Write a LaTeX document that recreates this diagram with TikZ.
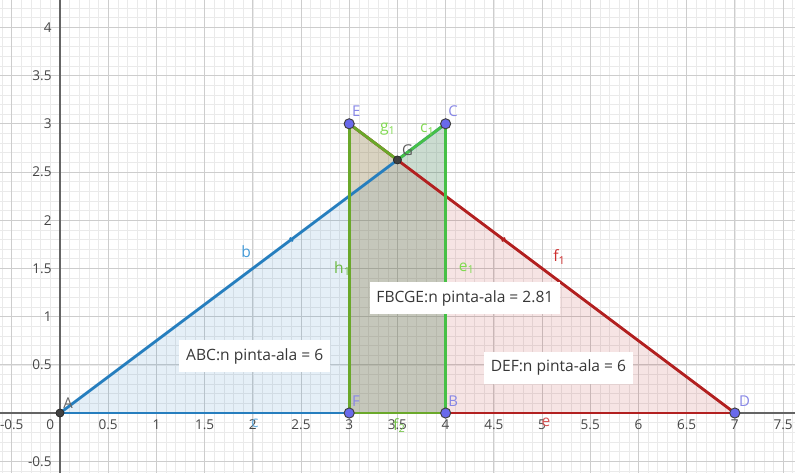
\documentclass[tikz,border=0pt]{standalone}
\usepackage{fontspec}
\setmainfont{Open Sans}
\usetikzlibrary{calc,positioning}
\definecolor{GridMinor}{RGB}{234,234,234}
\definecolor{GridMajor}{RGB}{205,205,205}
\definecolor{AxisGray}{RGB}{100,100,100}
\definecolor{TickGray}{RGB}{70,70,70}
\definecolor{LineBlue}{RGB}{38,126,190}
\definecolor{LineRed}{RGB}{178,32,32}
\definecolor{LineOlive}{RGB}{106,168,42}
\definecolor{LineGreen}{RGB}{70,192,70}
\definecolor{LabelGreen}{RGB}{128,218,80}
\definecolor{LabelBlue}{RGB}{70,155,215}
\definecolor{LabelRed}{RGB}{205,45,45}
\definecolor{PointBlue}{RGB}{105,105,235}
\definecolor{PointText}{RGB}{135,135,230}
\definecolor{BoxText}{RGB}{55,55,55}

\begin{document}
\begin{tikzpicture}[x=2.5cm,y=2.5cm,
    seg/.style={line width=2.1pt,line cap=round},
    pt/.style={circle,fill=PointBlue,draw=black!75,line width=0.7pt,
      inner sep=0pt,minimum size=7.5pt},
    ptdark/.style={circle,fill=black!75,draw=black!85,line width=0.5pt,
      inner sep=0pt,minimum size=6pt},
    ptlbl/.style={text=PointText,font=\fontsize{11}{13}\selectfont,inner sep=1pt},
    seglbl/.style={font=\fontsize{11.5}{13}\selectfont,inner sep=0pt},
    areabox/.style={fill=white,text=BoxText,inner xsep=5pt,inner ysep=6pt,
      font=\fontsize{11.5}{13}\selectfont},
    tick/.style={text=TickGray,font=\fontsize{10}{12}\selectfont,inner sep=1pt},
    segtick/.style={sloped,inner sep=0pt,minimum width=1.4pt,minimum height=3.5pt}
  ]
  \useasboundingbox (-0.622,-0.622) rectangle (7.624,4.284);
  % grid and axes
  \draw[GridMinor,line width=0.4pt] (-0.622,-0.622) grid[step=0.1] (7.624,4.284);
  \draw[GridMajor,line width=0.7pt] (-0.622,-0.622) grid[step=0.5] (7.624,4.284);
  \draw[AxisGray,line width=1.3pt] (-0.622,0) -- (7.624,0);
  \draw[AxisGray,line width=1.3pt] (0,-0.622) -- (0,4.284);
  \foreach \x in {-0.5,0.5,1,1.5,2,2.5,3,3.5,4,4.5,5,5.5,6,6.5,7,7.5}
    \node[tick] at (\x,-0.125) {\x};
  \node[tick] at (-0.1,-0.125) {0};
  \foreach \y in {-0.5,0.5,1,1.5,2,2.5,3,3.5,4}
    \node[tick,anchor=east] at (-0.07,\y) {\y};

  \coordinate (A) at (0,0);
  \coordinate (B) at (4,0);
  \coordinate (C) at (4,3);
  \coordinate (D) at (7,0);
  \coordinate (E) at (3,3);
  \coordinate (F) at (3,0);
  \coordinate (G) at (3.5,2.625);

  % polygons
  \fill[LineBlue,fill opacity=0.12] (A) -- (B) -- (C) -- cycle;
  \fill[LineRed,fill opacity=0.12] (D) -- (E) -- (F) -- cycle;
  \fill[LineOlive!80!black,fill opacity=0.18] (F) -- (B) -- (C) -- (G) -- (E) -- cycle;

  \draw[seg,LineBlue] (A) -- (B);
  \draw[seg,LineBlue] (A) -- (C) node[segtick,pos=0.6,fill=LineBlue] (btick) {};
  \draw[seg,LineRed] (D) -- (F);
  \draw[seg,LineRed] (D) -- (E) node[segtick,pos=0.6,fill=LineRed] (ftick) {};
  \draw[seg,LineOlive] (F) -- (B);
  \draw[seg,LineGreen] (B) -- (C);
  \draw[seg,LineGreen] (C) -- (G);
  \draw[seg,LineOlive] (G) -- (E);
  \draw[seg,LineOlive] (E) -- (F);

  % segment names
  \node[seglbl,text=LabelBlue] (lb) at (1.93,1.67) {b};
  \node[seglbl,text=LabelRed] (lf1) at (5.18,1.62) {f\textsubscript{1}};
  \node[seglbl,text=LabelGreen] (lg1) at (3.40,2.94) {g\textsubscript{1}};
  \node[seglbl,text=LabelGreen] (lc1) at (3.81,2.94) {c\textsubscript{1}};
  \node[seglbl,text=LabelGreen!85!black] (lh1) at (2.93,1.50) {h\textsubscript{1}};
  \node[seglbl,text=LabelGreen] (le1) at (4.22,1.50) {e\textsubscript{1}};
  \node[seglbl,text=LabelBlue!80] (lc) at (2.02,-0.11) {c};
  \node[seglbl,text=LabelGreen!90!black] (lf2) at (3.52,-0.13) {f\textsubscript{2}};
  \node[seglbl,text=LabelRed!80] (le) at (5.04,-0.10) {e};

  % area texts
  \node[areabox] (abcArea) at (2.02,0.59) {ABC:n pinta-ala = 6};
  \node[areabox] (fbcgeArea) at (4.20,1.19) {FBCGE:n pinta-ala = 2.81};
  \node[areabox] (defArea) at (5.17,0.47) {DEF:n pinta-ala = 6};

  % points
  \node[ptdark] (A-pt) at (A) {};
  \node[ptdark] (G-pt) at (G) {};
  \node[pt] (B-pt) at (B) {};
  \node[pt] (C-pt) at (C) {};
  \node[pt] (D-pt) at (D) {};
  \node[pt] (E-pt) at (E) {};
  \node[pt] (F-pt) at (F) {};
  \node[ptlbl,text=black!60,above right=0pt and -1pt of A-pt] (A-lbl) {A};
  \node[ptlbl,text=black!65,above right=0pt and 0pt of G-pt] (G-lbl) {G};
  \node[ptlbl,above right=1pt and -2pt of B-pt] (B-lbl) {B};
  \node[ptlbl,above right=1pt and -2pt of C-pt] (C-lbl) {C};
  \node[ptlbl,above right=1pt and -1pt of D-pt] (D-lbl) {D};
  \node[ptlbl,above right=1pt and -2pt of E-pt] (E-lbl) {E};
  \node[ptlbl,above right=1pt and -2pt of F-pt] (F-lbl) {F};
\end{tikzpicture}
\end{document}
